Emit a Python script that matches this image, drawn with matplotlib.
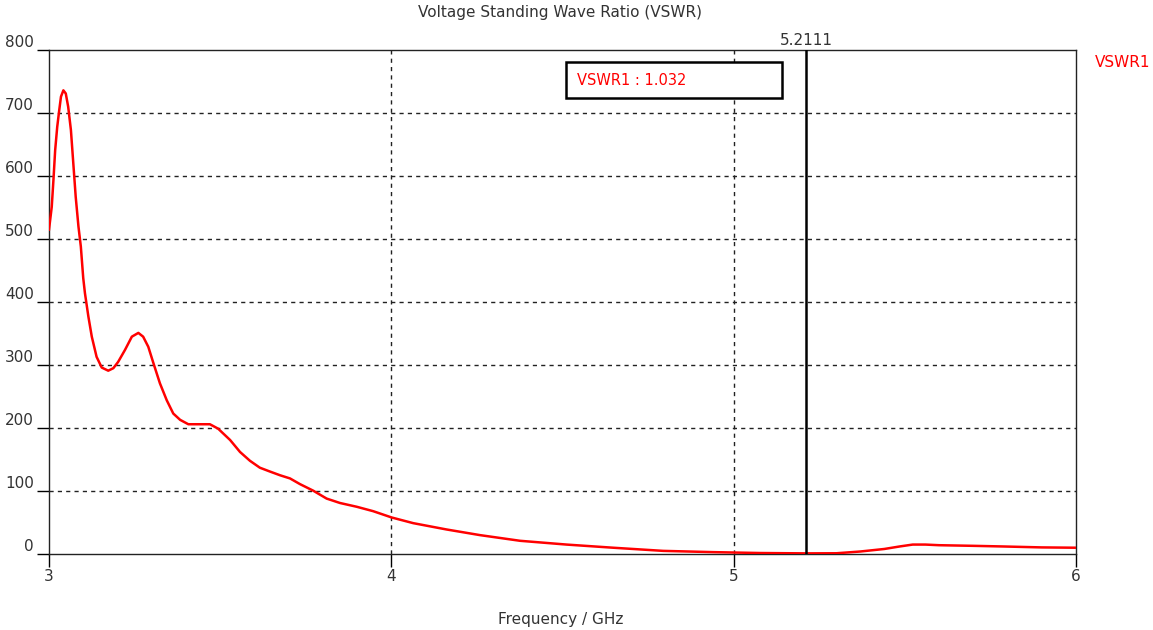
import numpy as np
import matplotlib.pyplot as plt
from matplotlib.patches import Rectangle

# VSWR curve (frequency in GHz, VSWR)
freq = [3.000, 3.008, 3.013, 3.018, 3.024, 3.030, 3.035, 3.042, 3.049, 3.056,
        3.064, 3.071, 3.078, 3.086, 3.093, 3.100, 3.105, 3.115, 3.125, 3.139,
        3.154, 3.173, 3.188, 3.202, 3.222, 3.242, 3.261, 3.275, 3.290, 3.305,
        3.324, 3.344, 3.363, 3.383, 3.407, 3.470, 3.494, 3.529, 3.558, 3.587,
        3.616, 3.645, 3.675, 3.704, 3.733, 3.772, 3.811, 3.850, 3.899, 3.947,
        4.001, 4.064, 4.161, 4.259, 4.376, 4.512, 4.648, 4.794, 4.940, 5.077,
        5.211, 5.300, 5.370, 5.440, 5.485, 5.523, 5.560, 5.600, 5.700, 5.786,
        5.900, 6.000]
vswr = [515, 551, 594, 641, 678, 705, 726, 736, 731, 710,
        673, 620, 567, 520, 488, 438, 414, 377, 345, 313,
        296, 291, 295, 305, 324, 345, 351, 345, 329, 303,
        271, 244, 223, 213, 206, 206, 199, 181, 162, 148,
        137, 131, 125, 120, 111, 100.5, 88, 81, 75, 68,
        58, 49, 39, 30, 21, 15, 10, 5, 3, 1.6,
        1.032, 1.2, 4, 8, 12, 15, 15, 14, 13, 12,
        10.5, 10]

marker_x = 5.2111
marker_val = 1.032
x_ticks = [3, 4, 5, 6]
y_ticks = [0, 100, 200, 300, 400, 500, 600, 700, 800]

txt = '#333333'
fig = plt.figure(figsize=(11.53, 6.3), dpi=100)
ax = fig.add_axes([0.0425, 0.1206, 0.8907, 0.8])

ax.plot(freq, vswr, color='red', lw=1.8, zorder=3, solid_joinstyle='round')
ax.axvline(marker_x, color='black', lw=1.8, zorder=4)

ax.set_xlim(3, 6)
ax.set_ylim(0, 800)
ax.set_xticks(x_ticks)
ax.set_yticks(y_ticks)
ax.set_xticklabels([str(v) for v in x_ticks])
ax.set_yticklabels([str(v) for v in y_ticks], va='bottom')
ax.tick_params(axis='both', direction='out', length=9, width=1, colors='black',
               labelcolor=txt, labelsize=11)
ax.tick_params(axis='y', pad=2)
ax.tick_params(axis='x', pad=2)

for v in y_ticks[1:-1]:
    ax.axhline(v, color='#222222', lw=1, ls=(0, (3, 3)), zorder=1)
for v in x_ticks[1:-1]:
    ax.axvline(v, color='#222222', lw=1, ls=(0, (3, 3)), zorder=1)

for s in ax.spines.values():
    s.set_color('#222222')
    s.set_linewidth(1)

ax.text(marker_x, 803, '%.4f' % marker_x, ha='center', va='bottom',
        fontsize=11, color=txt)

# marker readout box
ax.add_patch(Rectangle((0.5034, 0.905), 0.2103, 0.071, transform=ax.transAxes,
                       fc='white', ec='black', lw=1.8, zorder=5))
ax.text(0.5141, 0.940, 'VSWR1 : %.3f' % marker_val, transform=ax.transAxes,
        ha='left', va='center', color='red', fontsize=10.5, zorder=6)

ax.text(1.018, 0.976, 'VSWR1', transform=ax.transAxes, ha='left', va='center',
        color='red', fontsize=11)

fig.text(0.486, 0.98, 'Voltage Standing Wave Ratio (VSWR)', ha='center',
         va='center', fontsize=11, color=txt)
fig.text(0.486, 0.017, 'Frequency / GHz', ha='center', va='center',
         fontsize=11, color=txt)

fig.savefig('out.png', dpi=100)
